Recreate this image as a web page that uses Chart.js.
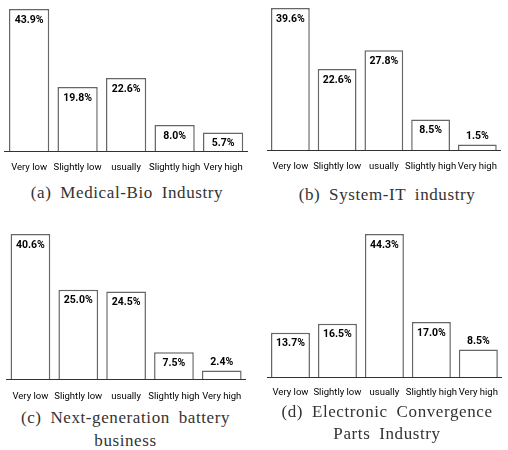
<!DOCTYPE html>
<html>
<head>
<meta charset="utf-8">
<script src="https://cdn.jsdelivr.net/npm/chart.js@4.4.1/dist/chart.umd.min.js"></script>
<style>
  body { margin: 0; background: #fff; width: 508px; height: 450px; position: relative; overflow: hidden; }
  .panel { position: absolute; }
  .cap {
    position: absolute;
    text-align: center;
    font-family: "Liberation Serif", "DejaVu Serif", serif;
    font-size: 17px;
    letter-spacing: 0.6px;
    word-spacing: 4px;
    color: #333;
    white-space: nowrap;
  }
</style>
</head>
<body>
<script>
const categories = ["Very low", "Slightly low", "usually", "Slightly high", "Very high"];

const medicalBio = [43.9, 19.8, 22.6, 8.0, 5.7];
const systemIT = [39.6, 22.6, 27.8, 8.5, 1.5];
const battery = [40.6, 25.0, 24.5, 7.5, 2.4];
const electronic = [13.7, 16.5, 44.3, 17.0, 8.5];

const captions = [
  ["(a) Medical-Bio Industry"],
  ["(b) System-IT industry"],
  ["(c) Next-generation battery", "business"],
  ["(d) Electronic Convergence", "Parts Industry"],
];

// layout of each small chart (pixels inside the 508x450 page)
const H = 180;
const panels = [
  { data: medicalBio, left: 0, top: 0, padL: 4, padR: 4, padT: 9, base: 151, labelY: 168, outside: [], capTop: 183, capLh: 20 },
  { data: systemIT, left: 254, top: 0, padL: 13, padR: 1, padT: 8, base: 150, labelY: 167, outside: [4], capTop: 185, capLh: 20 },
  { data: battery, left: 0, top: 225, padL: 5, padR: 8, padT: 9, base: 154, labelY: 172, outside: [4], capTop: 406, capLh: 23 },
  { data: electronic, left: 254, top: 225, padL: 13, padR: 1, padT: 9, base: 152, labelY: 168, outside: [4], capTop: 401, capLh: 22 },
];

const valueLabels = {
  id: "valueLabels",
  afterDatasetsDraw(chart, args, opts) {
    const ctx = chart.ctx;
    const meta = chart.getDatasetMeta(0);
    const vals = chart.data.datasets[0].data;
    ctx.save();
    ctx.font = "bold 10.5px Roboto, 'Liberation Sans', sans-serif";
    ctx.fillStyle = "#000";
    ctx.textAlign = "center";
    ctx.textBaseline = "middle";
    meta.data.forEach((bar, i) => {
      const y = opts.outside.includes(i) ? bar.y - 8 : bar.y + 11;
      ctx.fillText(vals[i].toFixed(1) + "%", bar.x, y);
    });
    ctx.restore();
  },
};

panels.forEach((p, k) => {
  const wrap = document.createElement("div");
  wrap.className = "panel";
  wrap.style.left = p.left + "px";
  wrap.style.top = p.top + "px";
  const cv = document.createElement("canvas");
  cv.width = 254;
  cv.height = H;
  wrap.appendChild(cv);
  document.body.appendChild(wrap);

  new Chart(cv, {
    type: "bar",
    data: {
      labels: categories,
      datasets: [
        {
          data: p.data,
          backgroundColor: "#fff",
          borderColor: "#666",
          borderWidth: 1.5,
          barPercentage: 0.83,
          categoryPercentage: 1,
        },
      ],
    },
    options: {
      responsive: false,
      animation: false,
      layout: { padding: { left: p.padL, right: p.padR, top: p.padT, bottom: 0 } },
      plugins: {
        legend: { display: false },
        tooltip: { enabled: false },
        valueLabels: { outside: p.outside },
      },
      scales: {
        x: {
          grid: { display: false, drawTicks: false },
          border: { display: true, color: "#333", width: 1 },
          ticks: {
            color: "#000",
            font: { family: "Roboto, sans-serif", size: 9.5 },
            padding: p.labelY - p.base - 6,
            maxRotation: 0,
            autoSkip: false,
          },
          afterFit: (s) => { s.height = H - p.base; },
        },
        y: {
          display: false,
          min: 0,
          max: Math.max(...p.data),
        },
      },
    },
    plugins: [valueLabels],
  });

  const cap = document.createElement("div");
  cap.className = "cap";
  const cx = p.left + p.padL + (254 - p.padL - p.padR) / 2;
  cap.style.left = (cx - 127) + "px";
  cap.style.width = "254px";
  cap.style.top = p.capTop + "px";
  cap.style.lineHeight = p.capLh + "px";
  cap.innerHTML = captions[k].join("<br>");
  document.body.appendChild(cap);
});
</script>
</body>
</html>
